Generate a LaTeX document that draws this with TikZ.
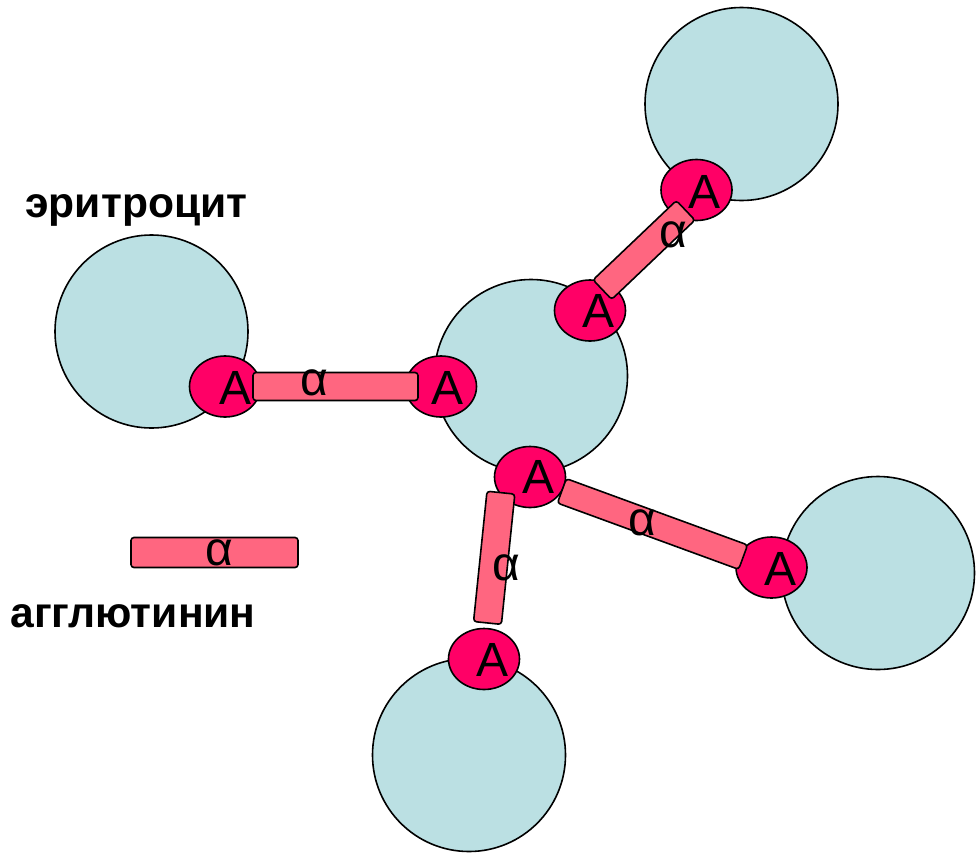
\documentclass[tikz,border=0pt]{standalone}
\usepackage{fontspec}
\setmainfont{Liberation Sans}
\usepackage{tikz}
\usetikzlibrary{shapes.geometric}
\definecolor{cellblue}{RGB}{187,224,227}
\definecolor{antired}{RGB}{255,0,102}
\definecolor{agglpink}{RGB}{255,102,128}
\tikzstyle{cell} = [draw, circle, fill=cellblue,
	minimum size=96.5pt, inner sep=0pt, line width=0.8pt]
\tikzstyle{antigen} = [draw, ellipse, fill=antired,
	minimum width=35.5pt, minimum height=30.5pt, inner sep=0pt, line width=0.8pt]
\tikzstyle{agglut} = [draw, rectangle, rounded corners=1.5pt, fill=agglpink,
	minimum height=14pt, inner sep=0pt, line width=0.8pt]
\tikzstyle{letter} = [inner sep=0pt, font=\fontsize{24pt}{28pt}\selectfont]
\tikzstyle{caption} = [inner sep=0pt, anchor=base west, font=\fontsize{21.3pt}{25pt}\selectfont\bfseries]

\begin{document}
\begin{tikzpicture}[x=0.5pt, y=-0.5pt]
	\useasboundingbox (0,0) rectangle (980,857);
	
	% erythrocytes
	\node (c0) [cell] at (531,376) {};
	\node (c1) [cell] at (151.5,331.5) {};
	\node (c2) [cell] at (741.5,104) {};
	\node (c3) [cell] at (878,573) {};
	\node (c4) [cell] at (469,755) {};
	
	% antigens
	\node (a1) [antigen] at (225,386.5) {};
	\node (a2) [antigen] at (441,386.5) {};
	\node (a3) [antigen] at (590,310.5) {};
	\node (a4) [antigen] at (696.5,190) {};
	\node (a5) [antigen] at (530,477) {};
	\node (a6) [antigen] at (771.5,567.5) {};
	\node (a7) [antigen] at (484,659) {};
	
	% agglutinins
	\node (g1) [agglut, minimum width=82.5pt] at (335.5,386.5) {};
	\node (g2) [agglut, minimum width=57.5pt, minimum height=13.5pt, rotate=43.6] at (644,250) {};
	\node (g3) [agglut, minimum width=96.5pt, minimum height=13pt, rotate=-20.1] at (652.5,524) {};
	\node (g4) [agglut, minimum width=65.5pt, rotate=84.1] at (494.2,557.8) {};
	\node (leg) [agglut, minimum width=83.5pt, minimum height=15pt] at (214.5,552.5) {};
	
	% letters
	\node (t1) [letter] at (236,388) {A};
	\node (t2) [letter] at (447.5,388) {A};
	\node (t3) [letter] at (598.5,310.5) {A};
	\node (t4) [letter] at (704.5,192) {A};
	\node (t5) [letter] at (538.5,476.5) {A};
	\node (t6) [letter] at (780,568.5) {A};
	\node (t7) [letter] at (493,659.5) {A};
	
	\node (l1) [letter] at (314.5,382.5) {α};
	\node (l2) [letter] at (673,235) {α};
	\node (l3) [letter] at (642.5,523) {α};
	\node (l4) [letter] at (506,567.5) {α};
	\node (l5) [letter] at (219.5,552.5) {α};
	
	% captions
	\node (ery) [caption] at (25,217) {эритроцит};
	\node (agg) [caption] at (10,627) {агглютинин};
\end{tikzpicture}
\end{document}
